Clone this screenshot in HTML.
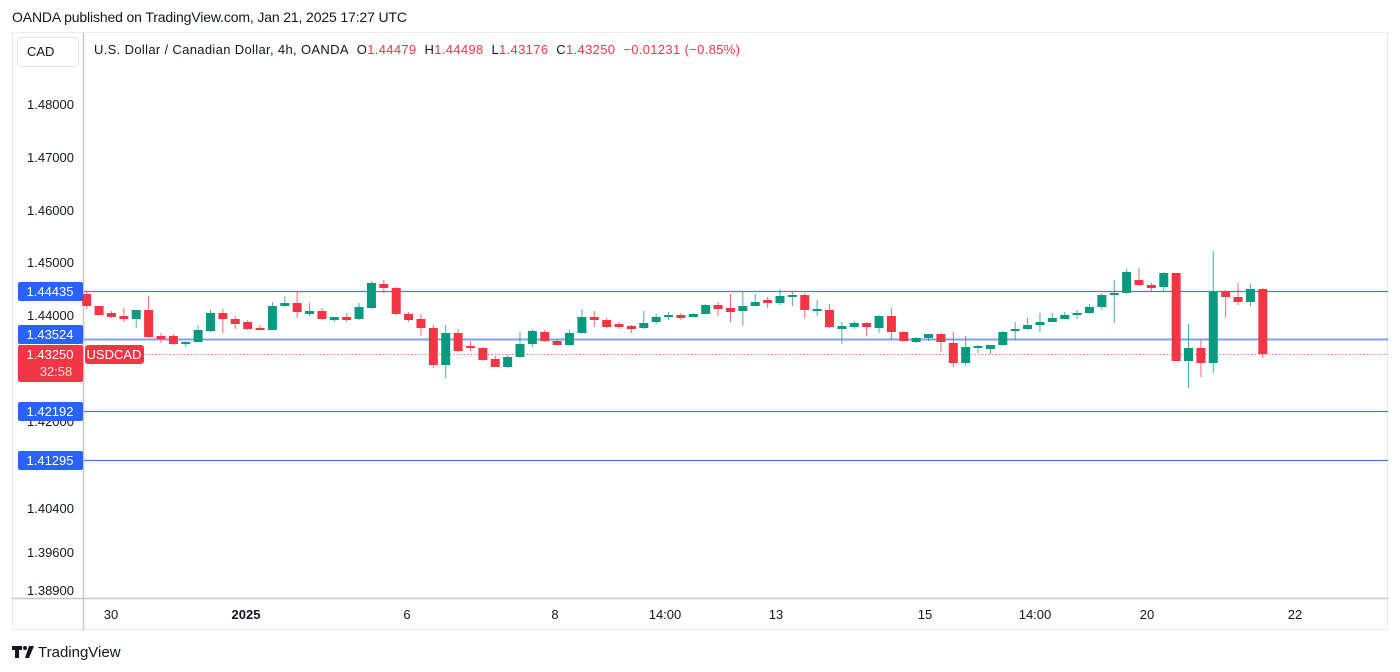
<!DOCTYPE html>
<html><head><meta charset="utf-8"><style>
html,body{margin:0;padding:0;background:#fff;width:1400px;height:672px;overflow:hidden;font-family:"Liberation Sans",sans-serif;}
</style></head><body>
<svg width="1400" height="672" xmlns="http://www.w3.org/2000/svg" font-family="Liberation Sans, sans-serif">
<text x="12" y="22" font-size="14" fill="#131722" textLength="395">OANDA published on TradingView.com, Jan 21, 2025 17:27 UTC</text>
<rect x="12.5" y="32.5" width="1375" height="597" fill="#fff" stroke="#e9e9f0"/>
<line x1="83.5" y1="33" x2="83.5" y2="630" stroke="#c8c8cc" stroke-width="1.5"/>
<line x1="12" y1="598.5" x2="1388" y2="598.5" stroke="#c8c8cc" stroke-width="1.5"/>
<rect x="17.5" y="37.5" width="61" height="29" rx="4" fill="#fff" stroke="#e0e3eb"/>
<text x="27" y="56" font-size="13" fill="#131722">CAD</text>
<text x="94" y="54" font-size="13" fill="#131722" textLength="646" lengthAdjust="spacing">U.S. Dollar / Canadian Dollar, 4h, OANDA&#160;&#160;O<tspan fill="#f23645">1.44479</tspan>&#160;&#160;H<tspan fill="#f23645">1.44498</tspan>&#160;&#160;L<tspan fill="#f23645">1.43176</tspan>&#160;&#160;C<tspan fill="#f23645">1.43250</tspan>&#160;&#160;<tspan fill="#f23645">−0.01231 (−0.85%)</tspan></text>
<g font-size="13" fill="#131722" text-anchor="end">
<text x="74" y="109">1.48000</text>
<text x="74" y="162">1.47000</text>
<text x="74" y="215">1.46000</text>
<text x="74" y="267">1.45000</text>
<text x="74" y="320">1.44000</text>
<text x="74" y="426">1.42000</text>
<text x="74" y="513">1.40400</text>
<text x="74" y="557">1.39600</text>
<text x="74" y="595">1.38900</text>
</g>
<g stroke="#4a7af0" stroke-width="1.2">
<line x1="84" y1="291.5" x2="1388" y2="291.5"/>
<line x1="84" y1="339.5" x2="1388" y2="339.5" stroke="#7fa0f5" stroke-width="2"/>
<line x1="84" y1="411.5" x2="1388" y2="411.5"/>
<line x1="84" y1="460.5" x2="1388" y2="460.5"/>
</g>
<line x1="145" y1="354.5" x2="1388" y2="354.5" stroke="#f23645" stroke-dasharray="1.5 2" opacity="0.7"/>
<g id="c"></g>
<g font-size="13" fill="#fff" text-anchor="middle">
<rect x="18" y="282" width="65" height="19" rx="2" fill="#2962ff"/><text x="50" y="296">1.44435</text>
<rect x="18" y="325" width="65" height="19" rx="2" fill="#2962ff"/><text x="50" y="339">1.43524</text>
<rect x="18" y="345" width="65" height="37" rx="2" fill="#f23645"/><text x="50" y="359">1.43250</text><text x="56" y="376" fill="#fdd">32:58</text>
<rect x="85" y="345" width="59" height="19" rx="3" fill="#f23645"/><text x="114" y="359">USDCAD</text>
<rect x="18" y="402" width="65" height="19" rx="2" fill="#2962ff"/><text x="50" y="416">1.42192</text>
<rect x="18" y="451" width="65" height="19" rx="2" fill="#2962ff"/><text x="50" y="465">1.41295</text>
</g>
<g font-size="13" fill="#131722" text-anchor="middle">
<text x="111" y="619">30</text>
<text x="246" y="619" font-weight="bold">2025</text>
<text x="407" y="619">6</text>
<text x="555" y="619">8</text>
<text x="665" y="619">14:00</text>
<text x="776" y="619">13</text>
<text x="925" y="619">15</text>
<text x="1035" y="619">14:00</text>
<text x="1147" y="619">20</text>
<text x="1295" y="619">22</text>
</g>
<g fill="#131722"><path d="M12 646h10v4h-3v8h-4v-8h-3z"/><circle cx="25" cy="648" r="2"/><path d="M29 646h5l-5 12h-4z"/></g>
<text x="38" y="657" font-size="15" fill="#131722">TradingView</text>
</svg>
<script>
var d=[[294,306,292,309],[306,315,306,315],[313,317,311,318],[317,318,308,322],[319,310,310,328],[310,337,296,338],[337,338,333,343],[336,344,334,345],[344,342,341,347],[342,330,325,342],[331,313,310,332],[313,319,309,333],[319,324,316,329],[322,329,320,330],[328,330,325,330],[330,306,302,330],[306,303,296,307],[303,312,292,318],[313,312,303,316],[311,319,308,320],[319,318,317,322],[318,319,313,322],[319,307,303,320],[308,283,281,309],[284,288,280,293],[288,314,287,315],[314,320,312,322],[319,328,314,336],[328,365,325,368],[365,333,325,378],[333,351,329,352],[346,348,341,351],[348,360,347,361],[359,367,356,367],[367,357,355,368],[357,344,332,358],[344,331,329,347],[332,341,330,342],[341,345,340,346],[345,333,330,346],[333,317,309,334],[317,320,311,327],[320,327,318,328],[324,327,322,329],[327,328,325,333],[328,323,311,329],[322,317,314,324],[316,316,312,320,1],[316,317,313,320],[317,314,313,317],[314,305,304,314],[305,309,302,316],[308,312,294,322],[311,306,292,326],[306,302,294,306],[301,302,297,308],[303,296,289,305],[296,296,292,306,1],[295,310,293,318],[310,310,300,316,1],[310,327,304,328],[328,327,322,344,1],[327,323,321,329],[323,327,322,336],[328,316,315,333],[316,332,308,340],[332,341,331,342],[342,338,337,343],[338,334,334,341],[334,342,333,352],[343,363,332,367],[363,347,336,366],[347,347,345,353,1],[349,345,345,354],[345,332,331,346],[331,329,322,340],[329,325,318,330],[325,322,313,332],[322,318,313,322],[319,315,312,319],[315,313,310,319],[313,307,304,314],[307,295,293,310],[295,293,280,323],[293,272,269,294],[280,285,268,286],[285,288,283,291],[287,273,272,291],[273,361,273,361],[361,348,324,388],[348,363,340,377],[363,292,251,373],[292,297,290,317],[297,302,283,305],[302,289,284,306],[289,354,288,358]];
var g=document.getElementById('c'),s='';
d.forEach(function(a,i){var x=86.7+i*12.38;var up=a[4]?true:a[1]<a[0];var col=up?'#089981':'#f23645';
var t=Math.min(a[0],a[1]),b=Math.max(a[0],a[1]);if(b-t<2){t-=1;b+=1;}
s+='<line x1="'+x+'" x2="'+x+'" y1="'+a[2]+'" y2="'+a[3]+'" stroke="'+col+'" stroke-width="1" opacity="0.75"/>';
s+='<rect x="'+(x-4.5)+'" y="'+t+'" width="9" height="'+(b-t)+'" fill="'+col+'"/>';});
g.innerHTML=s;
</script>
</body></html>
